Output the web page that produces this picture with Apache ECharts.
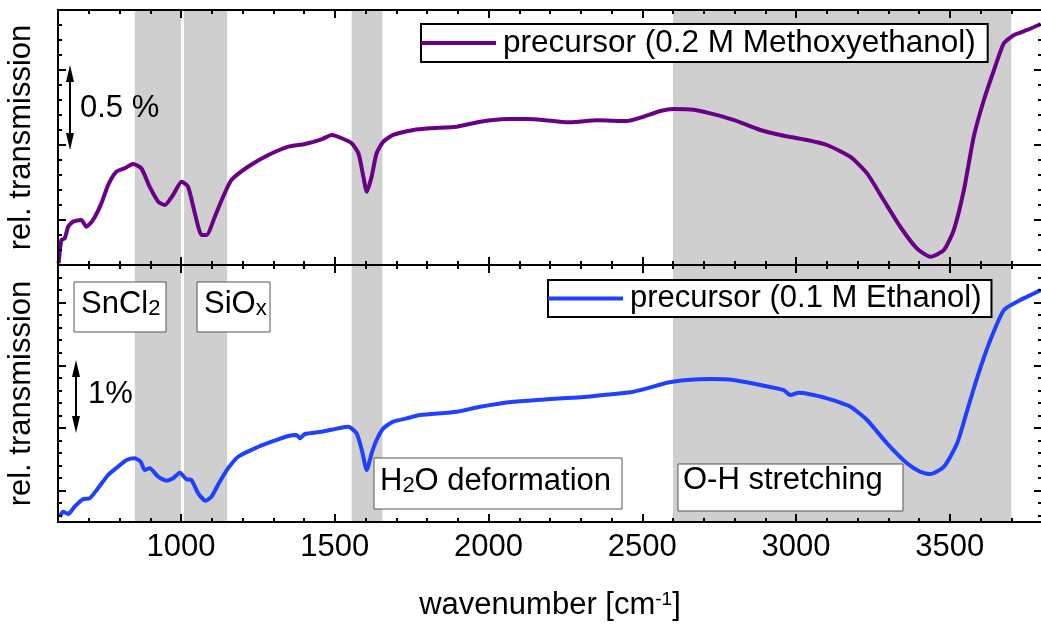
<!DOCTYPE html>
<html><head><meta charset="utf-8">
<script src="https://cdn.jsdelivr.net/npm/echarts@6/dist/echarts.min.js"></script>
<style>html,body{margin:0;padding:0;background:#fff}#c{width:1041px;height:624px}</style>
</head><body><div id="c"></div>
<script>
// ---- data ----
const seriesNames = ['precursor (0.2 M Methoxyethanol)', 'precursor (0.1 M Ethanol)'];
const wnTop = [602,611,622,633,649,676,692,714,741,763,790,817,844,871,898,926,947,974,1002,1023,1045,1067,1083,1110,1137,1164,1218,1284,1349,1403,1457,1490,1523,1555,1577,1593,1604,1620,1636,1658,1690,1756,1810,1897,1973,2060,2125,2211,2266,2353,2450,2494,2559,2602,2667,2721,2797,2884,2949,3036,3101,3176,3231,3285,3339,3393,3437,3481,3513,3546,3578,3611,3644,3676,3709,3752,3796];
const valTop = [0.711,0.867,0.878,0.955,0.989,1.000,0.955,1.000,1.111,1.233,1.322,1.345,1.373,1.345,1.222,1.122,1.100,1.167,1.255,1.222,1.045,0.900,0.900,1.022,1.155,1.267,1.355,1.433,1.489,1.507,1.538,1.567,1.545,1.511,1.445,1.289,1.189,1.289,1.445,1.522,1.567,1.600,1.611,1.622,1.655,1.673,1.673,1.660,1.651,1.665,1.660,1.682,1.727,1.740,1.735,1.711,1.667,1.600,1.567,1.533,1.500,1.422,1.311,1.133,0.955,0.811,0.755,0.800,0.933,1.200,1.555,1.800,2.000,2.178,2.233,2.267,2.307];
const wnBot = [606,616,633,654,681,703,730,763,795,823,850,869,882,898,926,953,974,996,1018,1034,1056,1080,1099,1126,1153,1186,1240,1295,1349,1376,1387,1403,1457,1511,1544,1571,1588,1604,1620,1636,1658,1690,1734,1777,1897,1973,2081,2190,2298,2407,2461,2515,2580,2646,2721,2797,2884,2960,2982,3009,3101,3177,3231,3296,3361,3404,3437,3481,3524,3557,3590,3632,3676,3719,3796];
const valBot = [0.585,0.664,0.628,0.744,0.862,0.878,1.037,1.250,1.382,1.489,1.516,1.462,1.329,1.356,1.222,1.159,1.197,1.286,1.181,1.170,0.958,0.840,0.904,1.143,1.356,1.541,1.675,1.781,1.872,1.888,1.835,1.904,1.940,1.994,2.020,1.915,1.648,1.329,1.596,1.808,1.994,2.100,2.154,2.207,2.259,2.339,2.419,2.457,2.489,2.541,2.569,2.632,2.722,2.765,2.781,2.765,2.685,2.605,2.525,2.562,2.473,2.339,2.127,1.755,1.436,1.302,1.266,1.382,1.755,2.286,2.817,3.403,3.881,4.014,4.200];
const bands = [[850,1000],[1010,1150],[1555,1655],[2600,3700]];
const xMajorTicks = [1000,1500,2000,2500,3000,3500];
const yTopMajor = [1.0,1.5,2.0];
const yTopMinor = [0.8,0.9,1.1,1.2,1.3,1.4,1.6,1.7,1.8,1.9,2.1,2.2,2.3];
const yBotMajor = [1,2,3,4];
const yBotMinor = [0.6,0.8,1.2,1.4,1.6,1.8,2.2,2.4,2.6,2.8,3.2,3.4,3.6,3.8,4.2,4.4];

const FONT = '"Liberation Sans", Arial, sans-serif';
const FS = 31;
const BLACK = '#000';

function pairs(xs, ys){ return xs.map((x,i)=>[x, ys[i]]); }

const grids = [
  {left:58, width:984, top:10, height:255, outerBoundsMode:'none', containLabel:false},
  {left:58, width:984, top:265, height:257, outerBoundsMode:'none', containLabel:false}
];

function xAx(g, pos, major, labels){
  const a = {type:'value', gridIndex:g, position:pos, min:600, max:3800, z:10,
    splitLine:{show:false},
    axisLine:{show:major, onZero:false, lineStyle:{color:BLACK, width:2}},
    axisTick: major ? {show:true, inside:true, length:8, lineStyle:{color:BLACK,width:2}, customValues:xMajorTicks}
                    : {show:true, inside:true, length:4, lineStyle:{color:BLACK,width:2}},
    axisLabel: labels ? {show:true, customValues:xMajorTicks, formatter:(v)=>String(v), fontSize:FS, fontFamily:FONT, color:BLACK, margin:10} : {show:false}
  };
  if(!major) a.interval = 100;
  if(labels){
    a.name = 'wavenumber [cm{sup|-1}]';
    a.nameLocation = 'middle';
    a.nameGap = 68;
    a.nameTextStyle = {fontSize:FS, fontFamily:FONT, color:BLACK,
      rich:{sup:{fontSize:19, fontFamily:FONT, color:BLACK, verticalAlign:'top', lineHeight:31}}};
  }
  return a;
}
function yAx(g, pos, min, max, ticks, major, name){
  const a = {type:'value', gridIndex:g, position:pos, min:min, max:max, z:10,
    splitLine:{show:false},
    axisLine:{show:major, onZero:false, lineStyle:{color:BLACK, width:2}},
    axisTick:{show:true, inside:true, length: major?8:4, lineStyle:{color:BLACK,width:2}, customValues:ticks},
    axisLabel:{show:false}
  };
  if(name){
    a.name = name; a.nameLocation='middle'; a.nameGap = 21; a.nameRotate = 90;
    a.nameTextStyle = {fontSize:FS, fontFamily:FONT, color:BLACK};
  }
  return a;
}

const xAxis = [
  xAx(0,'bottom',true,false), xAx(0,'bottom',false,false), xAx(0,'top',true,false), xAx(0,'top',false,false),
  xAx(1,'bottom',true,true),  xAx(1,'bottom',false,false), xAx(1,'top',true,false), xAx(1,'top',false,false)
];
const yAxis = [
  yAx(0,'left',0.7,2.4,yTopMajor,true,'rel. transmission'), yAx(0,'left',0.7,2.4,yTopMinor,false),
  yAx(0,'right',0.7,2.4,yTopMajor,true), yAx(0,'right',0.7,2.4,yTopMinor,false),
  yAx(1,'left',0.5,4.6,yBotMajor,true,'rel. transmission'), yAx(1,'left',0.5,4.6,yBotMinor,false),
  yAx(1,'right',0.5,4.6,yBotMajor,true), yAx(1,'right',0.5,4.6,yBotMinor,false)
];

function bandSeries(xi, yi){
  return {type:'line', xAxisIndex:xi, yAxisIndex:yi, data:[], z:1, silent:true,
    markArea:{silent:true, itemStyle:{color:'#cfcfcf'}, data: bands.map(b=>[{xAxis:b[0]},{xAxis:b[1]}])}};
}

const series = [
  bandSeries(0,0), bandSeries(4,4),
  {name:seriesNames[0], type:'line', xAxisIndex:0, yAxisIndex:0, data:pairs(wnTop,valTop), showSymbol:false, symbol:'none',
   smooth:0.2, lineStyle:{color:'#6a0088', width:4}, itemStyle:{color:'#6a0088'}, z:5},
  {name:seriesNames[1], type:'line', xAxisIndex:4, yAxisIndex:4, data:pairs(wnBot,valBot), showSymbol:false, symbol:'none',
   smooth:0.2, lineStyle:{color:'#2040ff', width:4}, itemStyle:{color:'#2040ff'}, z:5}
];

function legend(name, left, top, fs, padR){
  return {data:[name], left:left, top:top, orient:'horizontal', icon:'rect', itemWidth:75, itemHeight:4,
    padding:[3,padR,3,0], borderColor:BLACK, borderWidth:2, backgroundColor:'#fff', selectedMode:false, z:20,
    textStyle:{fontSize:fs, fontFamily:FONT, color:BLACK, padding:[0,0,0,2]}};
}

function box(x,y,w,h){ return {type:'rect', z:100, shape:{x:x,y:y,width:w,height:h}, style:{fill:'#fff', stroke:'#555', lineWidth:1}}; }
function txt(x,y,t,rich){ return {type:'text', z:101, x:x, y:y, style:{text:t, fontSize:FS, fontFamily:FONT, fill:BLACK, verticalAlign:'middle', align:'left', rich:rich||undefined}}; }
const subRich = {m:{fontSize:FS, fontFamily:FONT, color:BLACK, lineHeight:31}, s:{fontSize:22, fontFamily:FONT, color:BLACK, verticalAlign:'bottom', lineHeight:6}};
function arrow(x,y1,y2){
  return [
    {type:'line', z:100, shape:{x1:x,y1:y1+10,x2:x,y2:y2-10}, style:{stroke:BLACK, lineWidth:2}},
    {type:'polygon', z:100, shape:{points:[[x,y1],[x-4,y1+17],[x+4,y1+17]]}, style:{fill:BLACK}},
    {type:'polygon', z:100, shape:{points:[[x,y2],[x-4,y2-17],[x+4,y2-17]]}, style:{fill:BLACK}}
  ];
}

const graphic = [
  box(74,282,92,50), txt(81,304,'{m|SnCl}{s|2}',subRich),
  box(197,282,73,50), txt(204,304,'{m|SiO}{s|x}',subRich),
  box(374,458,248,51), txt(380,481,'{m|H}{s|2}{m|O deformation}',subRich),
  box(678,464,225,47), txt(683,480,'O-H stretching'),
  ...arrow(70,65,150), txt(80,108,'0.5 %'),
  ...arrow(76,360,433), txt(88,394,'1%')
];

const chart = echarts.init(document.getElementById('c'), null, {renderer:'canvas'});
chart.setOption({
  animation:false, backgroundColor:'#fff',
  grid:grids, xAxis:xAxis, yAxis:yAxis, series:series,
  legend:[legend(seriesNames[0],421,24,31.5,12), legend(seriesNames[1],548,280,31,10)],
  graphic:graphic
});
</script></body></html>
